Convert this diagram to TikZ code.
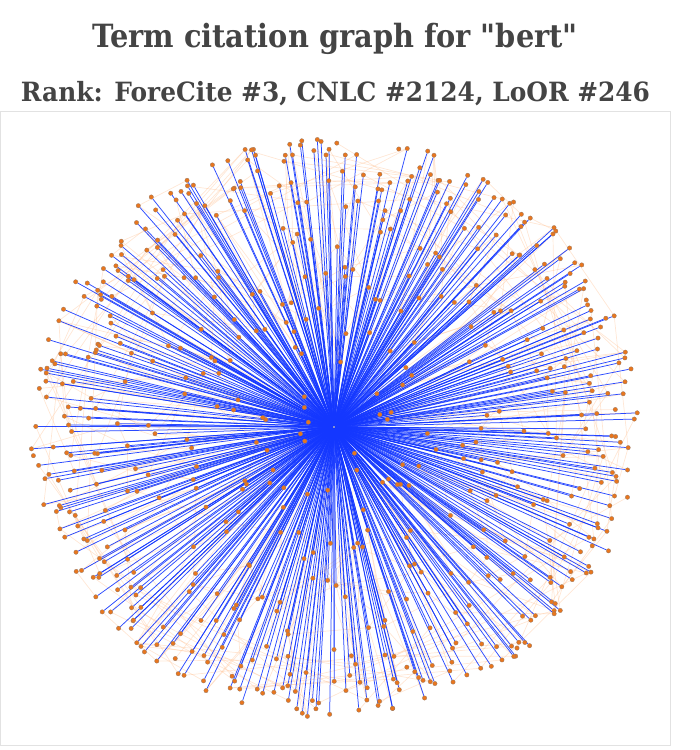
\documentclass[tikz,border=0pt]{standalone}
\usepackage{fontspec}
\usepackage{graphicx}
\newfontfamily\titlefont{DejaVu Serif}
\definecolor{titlegray}{HTML}{444444}
\definecolor{framegray}{HTML}{E2E2E2}
\definecolor{edgeblue}{RGB}{20,55,255}
\definecolor{dotorange}{RGB}{232,118,30}
\definecolor{dotrim}{RGB}{150,120,100}
\definecolor{faintorange}{RGB}{255,195,150}
\tikzset{
  slot/.style={circle,inner sep=0pt,minimum size=4.4pt},
  dot/.style={circle,fill=dotorange,draw=dotrim,line width=0.3pt,inner sep=0pt,minimum size=4.4pt},
  hub/.style={circle,draw=edgeblue!60!black,line width=0.5pt,inner sep=0pt,minimum size=3pt},
  bedge/.style={draw=edgeblue,line width=0.75pt,opacity=0.9},
  oedge/.style={draw=faintorange,line width=0.7pt,opacity=0.4},
  ttl/.style={text=titlegray,font=\titlefont\bfseries\fontsize{32}{38}\selectfont,inner sep=0pt},
  subttl/.style={text=titlegray,font=\titlefont\bfseries\fontsize{26.5}{32}\selectfont,inner sep=0pt}
}
\begin{document}
\begin{tikzpicture}[x=1pt,y=-1pt]
\useasboundingbox (0,0) rectangle (700,750);
\draw[framegray,line width=1pt] (0.5,111.5) rectangle (670,745.5);
\node[ttl] (title) at (335,38.5) {\resizebox{486pt}{\height}{Term citation graph for "bert"}};
\node[subttl] (subtitle) at (335.5,93.5) {\resizebox{629pt}{\height}{Rank: ForeCite \#3, CNLC \#2124, LoOR \#246}};
\pgfmathsetseed{4242}
% positions: outer ring of citing papers
\foreach \i in {1,...,420}{
  \pgfmathsetmacro{\ang}{\i/420*360+rnd*4}
  \pgfmathsetmacro{\rr}{0.72+0.29*sqrt(rnd)}
  \node[slot] (n\i) at ({334+301*\rr*cos(\ang)},{427+288*\rr*sin(\ang)}) {};
}
% positions: inner papers
\foreach \i in {421,...,620}{
  \pgfmathsetmacro{\ang}{(\i-420)/200*360+rnd*8}
  \pgfmathsetmacro{\rr}{0.06+0.68*sqrt(rnd)}
  \node[slot] (n\i) at ({334+301*\rr*cos(\ang)},{427+288*\rr*sin(\ang)}) {};
}
\node[hub] (c) at (334,427) {};
% faint citation links among papers
\foreach \i in {1,...,420}{
  \pgfmathtruncatemacro{\j}{mod(\i+random(3,70)-1,420)+1}
  \pgfmathtruncatemacro{\k}{mod(\i,3)}
  \ifnum\k=0
    \draw[oedge] (n\i) -- (n\j);
  \fi
}
\foreach \i in {421,...,620}{
  \pgfmathtruncatemacro{\j}{round((\i-420)/200*420)}
  \pgfmathtruncatemacro{\j}{mod(\j+random(0,30)-15+420,420)+1}
  \draw[oedge] (n\i) -- (n\j);
  \pgfmathtruncatemacro{\k}{mod(\i-421+random(1,15),200)+421}
  \draw[oedge] (n\i) -- (n\k);
}
% citations of the term's hub
\foreach \i in {1,...,620}{
  \pgfmathtruncatemacro{\e}{mod(\i*7,100)}
  \ifnum\e>6
    \draw[bedge] (c) -- (n\i);
  \fi
}
% paper dots
\foreach \i in {1,...,620}{
  \node[dot] at (n\i) {};
}
\end{tikzpicture}
\end{document}
